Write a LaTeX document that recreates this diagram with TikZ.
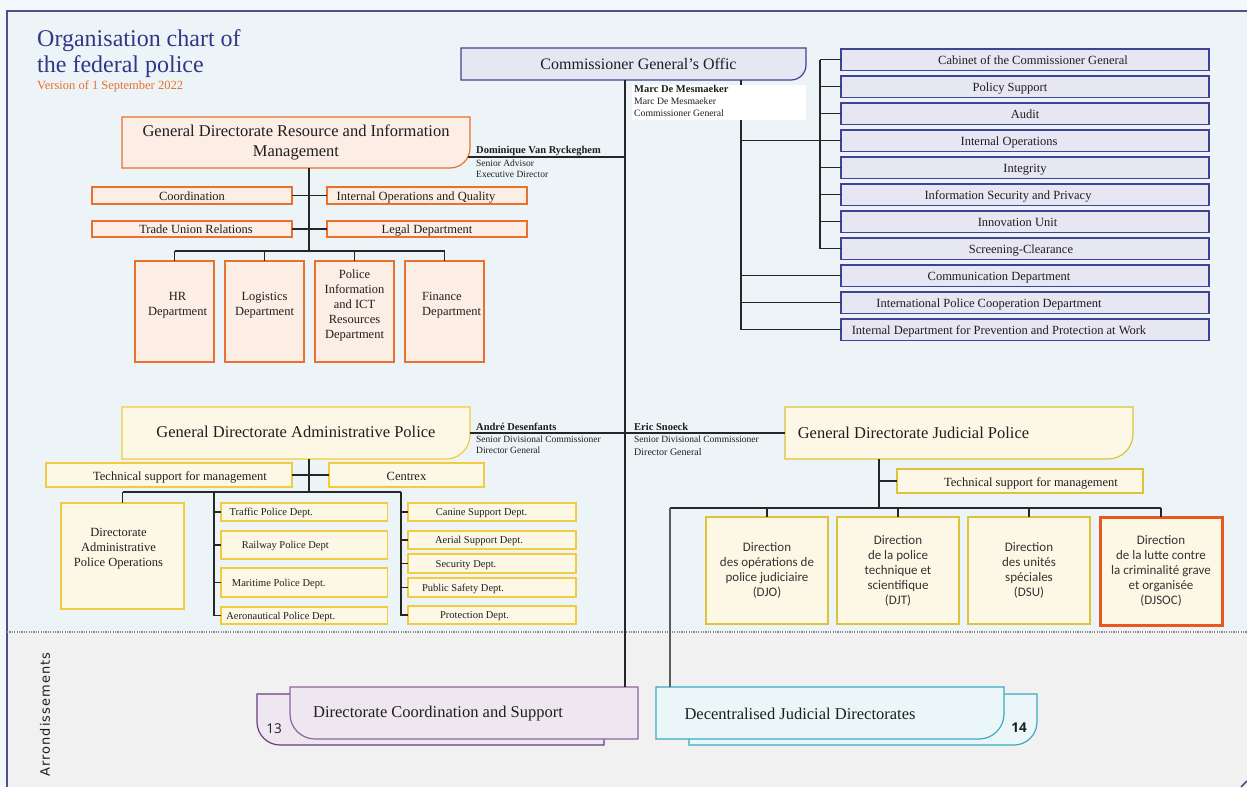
\documentclass[tikz,border=0pt]{standalone}
\usepackage{fontspec}
\setmainfont{Liberation Serif}
\newfontfamily\jfont{Carlito}
\newfontfamily\nfont{Open Sans}
\newfontfamily\arrfont[LetterSpace=8]{DejaVu Sans}
\usetikzlibrary{calc}
\definecolor{pageC}{HTML}{F2F8FB}
\definecolor{upC}{HTML}{EDF4F7}
\definecolor{lowC}{HTML}{F0F1F0}
\definecolor{frameC}{HTML}{4A5089}
\definecolor{titleC}{HTML}{2F3889}
\definecolor{verC}{HTML}{E8702A}
\definecolor{lavF}{HTML}{E7E6F3}
\definecolor{lavD}{HTML}{3D4496}
\definecolor{oraF}{HTML}{FDEEE5}
\definecolor{oraD}{HTML}{E8712E}
\definecolor{yelF}{HTML}{FDF8E6}
\definecolor{yelD}{HTML}{F2CB3E}
\definecolor{jyelD}{HTML}{DDC23A}
\definecolor{redD}{HTML}{E8581C}
\definecolor{purF}{HTML}{EEE7EF}
\definecolor{purD}{HTML}{8B66A0}
\definecolor{purDD}{HTML}{6B3E82}
\definecolor{tealF}{HTML}{EBF6F8}
\definecolor{tealD}{HTML}{3AAAC6}
\definecolor{lineC}{HTML}{262626}
\definecolor{txtC}{HTML}{1E1E1E}
\definecolor{jtxtC}{HTML}{333333}
\definecolor{dotC}{HTML}{8A8A8A}
\newcommand\cbx[3]{\makebox[#1pt][c]{\hspace*{#2pt}#3}}
\newcommand\shapeSE[4]{\path[draw=#2, fill=#3, line width=1.2pt] (#1.north west) -- (#1.north east) -- ([yshift=#4pt]#1.south east) arc[start angle=0, end angle=-90, radius=#4pt] -- (#1.south west) -- cycle;}
\newcommand\shapeSW[4]{\path[draw=#2, fill=#3, line width=1.2pt] (#1.north west) -- (#1.north east) -- (#1.south east) -- ([xshift=#4pt]#1.south west) arc[start angle=270, end angle=180, radius=#4pt] -- cycle;}
\begin{document}
\begin{tikzpicture}[x=1pt,y=-1pt,
  ln/.style={draw=lineC, line width=1.1pt},
  wh/.style 2 args={minimum width=#1pt, minimum height=#2pt},
  box/.style={rectangle, inner sep=0pt, outer sep=0pt, anchor=north west, line width=1.2pt, text=txtC},
  lav/.style={box, draw=lavD, fill=lavF, font=\fontsize{12.5}{14}\selectfont, text height=10pt, text depth=0pt},
  ora/.style={box, draw=oraD, fill=oraF, font=\fontsize{12.5}{15}\selectfont, text height=9.2pt, text depth=0pt},
  orab/.style={box, draw=oraD, fill=oraF},
  yel/.style={box, draw=yelD, fill=yelF, font=\fontsize{12.5}{15}\selectfont, text height=10pt, text depth=0pt},
  yelb/.style={box, draw=yelD, fill=yelF},
  yels/.style={yel, font=\fontsize{10.5}{12}\selectfont, text height=7.8pt, text depth=0pt},
  jb/.style={box, draw=jyelD, fill=yelF, align=center, font=\jfont\fontsize{13}{15}\selectfont, text=jtxtC},
  hd/.style={box, draw=none, fill=none},
  txt/.style={inner sep=0pt, text=txtC, align=center, font=\fontsize{12.5}{15}\selectfont},
  hdt/.style={txt, font=\fontsize{16.5}{19.5}\selectfont},
  pn/.style={inner sep=0pt, anchor=base west, text=txtC, font=\fontsize{9.5}{11}\selectfont},
  pnb/.style={pn, font=\fontsize{10.5}{12}\selectfont\bfseries},
]
\useasboundingbox (0,0) rectangle (1247,787);
% backgrounds
\fill[pageC] (0,0) rectangle (1247,787);
\fill[upC] (7,11) rectangle (1247,632);
\fill[lowC] (7,632) rectangle (1247,787);
\draw[frameC, line width=1.5pt] (7,787) -- (7,11) -- (1247,11);
\draw[frameC, line width=1.5pt] (1241,787) -- (1247,781);
\draw[dotC, line width=1.2pt, dash pattern=on 1.2pt off 1.2pt] (7,632) -- (1247,632);

% title
\node[inner sep=0pt, anchor=base west, text=titleC, font=\fontsize{24}{26}\selectfont] (t1a) at (37,46) {Organisation chart of};
\node[inner sep=0pt, anchor=base west, text=titleC, font=\fontsize{24}{26}\selectfont] (t1b) at (37,72) {the federal police};
\node[inner sep=0pt, anchor=base west, text=verC, font=\fontsize{12.5}{14}\selectfont] (t1c) at (37,89) {Version of 1 September 2022};

% Commissioner General's Office
\node[hd, wh={345}{32}] (cgo) at (461,48) {};
\shapeSE{cgo}{lavD}{lavF}{15}
\node[hdt, font=\fontsize{16}{19}\selectfont] (cgo-t) at ([xshift=5pt]cgo.center) {Commissioner General’s Offic};

% right list
\foreach \i/\s/\t in {1/16/Cabinet of the Commissioner General,
  2/-30/Policy Support, 3/0/Audit, 4/-32/Internal Operations, 5/0/Integrity,
  6/-34/Information Security and Privacy, 7/-15/Innovation Unit, 8/-8/Screening-Clearance,
  9/-52/Communication Department, 10/-72/International Police Cooperation Department,
  11/-52/Internal Department for Prevention and Protection at Work}{
  \pgfmathsetmacro\yy{49+27*(\i-1)}
  \node[lav, wh={368}{21.5}] (r\i) at (841,\yy) {\cbx{368}{\s}{\t}};
}
\coordinate (spR) at (741,330);
\coordinate (brk) at (820,60);
\coordinate (spM) at (625,80);
\draw[ln] (cgo.south -| spR) -- (spR |- r11.west) -- (r11.west);
\draw[ln] (spR |- r9.west) -- (r9.west);
\draw[ln] (spR |- r10.west) -- (r10.west);
\draw[ln] (brk |- r1.west) -- (brk |- r8.west);
\foreach \i in {1,...,8} { \draw[ln] (brk |- r\i.west) -- (r\i.west); }
\draw[ln] (spR |- r4.west) -- (brk |- r4.west);

% white panel with name
\fill[white] (632,85) rectangle (806,120);
\node[pnb] (m1) at (634,92.7) {Marc De Mesmaeker};
\node[pn, font=\fontsize{9.7}{11}\selectfont] (m2) at (634,104.3) {Marc De Mesmaeker};
\node[pn, font=\fontsize{9.7}{11}\selectfont] (m3) at (634,116) {Commissioner General};

% GD Resource and Information Management
\node[hd, wh={348}{51}] (gdr) at (122,117) {};
\shapeSE{gdr}{oraD}{oraF}{20}
\node[hdt] (gdr-t) at (gdr.center) {General Directorate Resource and Information\\Management};
\node[pnb] (d1) at (476,153.3) {Dominique Van Ryckeghem};
\node[pn] (d2) at (476,166.5) {Senior Advisor};
\node[pn] (d3) at (476,177.5) {Executive Director};

\node[ora, wh={200}{17}] (coo) at (92,187) {\cbx{200}{0}{Coordination}};
\node[ora, wh={200}{17}] (ioq) at (327,187) {\cbx{200}{-22}{Internal Operations and Quality}};
\node[ora, wh={200}{16}] (tur) at (92,221) {\cbx{200}{8}{Trade Union Relations}};
\node[ora, wh={200}{16}] (leg) at (327,221) {\cbx{200}{0}{Legal Department}};
\node[orab, wh={79}{101}] (hr) at (135,261) {};
\node[orab, wh={79}{101}] (log) at (225,261) {};
\node[orab, wh={79}{101}] (pit) at (315,261) {};
\node[orab, wh={79}{101}] (fin) at (405,261) {};
\node[txt] (hr-t) at ([xshift=3pt,yshift=6pt]hr.center) {HR\\Department};
\node[txt] (log-t) at ([yshift=6pt]log.center) {Logistics\\Department};
\node[txt] (pit-t) at ([yshift=6pt]pit.center) {Police\\Information\\and ICT\\Resources\\Department};
\node[txt, anchor=west, align=left] (fin-t) at ([xshift=17pt,yshift=6pt]fin.west) {Finance\\Department};

\coordinate (dvr) at ([xshift=-2pt,yshift=11pt]gdr.south east);
\draw[ln] (dvr) -- (dvr -| spM);
\coordinate (t1) at (309,251);
\draw[ln] (gdr.south -| t1) -- (t1);
\draw[ln] (coo.east) -- (ioq.west);
\draw[ln] (tur.east) -- (leg.west);
\draw[ln] (hr.north |- t1) -- (fin.north |- t1);
\foreach \n in {hr,log,pit,fin} { \draw[ln] (\n.north |- t1) -- (\n.north); }

% GD Administrative Police
\node[hd, wh={348}{52}] (gda) at (122,407) {};
\shapeSE{gda}{yelD}{yelF}{24}
\node[hdt] (gda-t) at ([yshift=1pt]gda.center) {General Directorate Administrative Police};
\node[pnb] (a1) at (476,430) {André Desenfants};
\node[pn] (a2) at (476,442) {Senior Divisional Commissioner};
\node[pn] (a3) at (476,453) {Director General};

\node[yel, wh={246}{24}] (tsa) at (46,463) {\cbx{246}{22}{Technical support for management}};
\node[yel, wh={155}{24}] (ctx) at (329,463) {\cbx{155}{0}{Centrex}};
\node[yelb, wh={123}{106}] (dapo) at (61,503) {};
\node[txt] (dapo-t) at ([xshift=-4pt,yshift=7pt]dapo.center) {Directorate\\Administrative\\Police Operations};

\node[yels, wh={166.5}{18}] (traf) at (221,503) {\cbx{166.5}{-66}{Traffic Police Dept.}};
\node[yels, wh={166.5}{28}] (rail) at (221,531) {\cbx{166.5}{-38}{Railway Police Dept}};
\node[yels, wh={166.5}{29}] (mar) at (221,568) {\cbx{166.5}{-51}{Maritime Police Dept.}};
\node[yels, wh={166.5}{17}] (aer) at (221,607) {\cbx{166.5}{-47}{Aeronautical Police Dept.}};
\node[yels, wh={168}{18}] (can) at (408,503) {\cbx{168}{-21}{Canine Support Dept.}};
\node[yels, wh={168}{18}] (aeri) at (408,531) {\cbx{168}{-26}{Aerial Support Dept.}};
\node[yels, wh={168}{19}] (sec) at (408,554) {\cbx{168}{-52}{Security Dept.}};
\node[yels, wh={168}{19}] (pub) at (408,578) {\cbx{168}{-58}{Public Safety Dept.}};
\node[yels, wh={168}{18}] (pro) at (408,606) {\cbx{168}{-35}{Protection Dept.}};

\draw[ln] (gda.east) -- (gda.east -| spM);
\coordinate (t2) at (309,492);
\coordinate (cA) at (214,492);
\coordinate (cB) at (401,492);
\draw[ln] (gda.south -| t2) -- (t2);
\draw[ln] (tsa.east) -- (ctx.west);
\draw[ln] (dapo.north |- t2) -- (cB);
\draw[ln] (dapo.north |- t2) -- (dapo.north);
\draw[ln] (cA) -- (cA |- aer.west) -- (aer.west);
\draw[ln] (cB) -- (cB |- pro.west) -- (pro.west);
\foreach \n in {traf,rail,mar} { \draw[ln] (cA |- \n.west) -- (\n.west); }
\foreach \n in {can,aeri,sec,pub} { \draw[ln] (cB |- \n.west) -- (\n.west); }

% GD Judicial Police
\node[hd, wh={348}{52}] (gjp) at (785,407) {};
\shapeSE{gjp}{jyelD}{yelF}{25}
\node[hdt] (gjp-t) at ([xshift=-45.5pt]gjp.center) {General Directorate Judicial Police};
\node[pnb] (e1) at (634,430) {Eric Snoeck};
\node[pn] (e2) at (634,442) {Senior Divisional Commissioner};
\node[pn, font=\fontsize{10}{11}\selectfont] (e3) at (634,455) {Director General};

\node[yel, draw=jyelD, wh={246}{24}] (tsj) at (897,469) {\cbx{246}{22}{Technical support for management}};
\node[jb, wh={122}{107}] (djo) at (706,517) {Direction\\des opérations de\\police judiciaire\\(DJO)};
\node[jb, wh={122}{107}] (djt) at (837,517) {Direction\\de la police\\technique et\\scientifique\\(DJT)};
\node[jb, wh={122}{107}] (dsu) at (968,517) {Direction\\des unités\\spéciales\\(DSU)};
\node[jb, draw=redD, line width=3pt, wh={122}{108}] (djsoc) at (1100,517) {Direction\\de la lutte contre\\la criminalité grave\\et organisée\\(DJSOC)};

\draw[ln] (spM |- gjp.west) -- (gjp.west);
\coordinate (t3) at (879,508);
\coordinate (jL) at (670,508);
\draw[ln] (gjp.south -| t3) -- (t3);
\draw[ln] (t3 |- tsj.west) -- (tsj.west);
\draw[ln] (jL) -- (djsoc.north |- jL);
\foreach \n in {djo,djt,dsu,djsoc} { \draw[ln] (\n.north |- jL) -- (\n.north); }

% bottom: arrondissements
\node[rotate=90, inner sep=0pt, text=txtC, font=\arrfont\fontsize{13}{13}\selectfont] (arr) at (45,714.5) {Arrondissements};

\node[hd, wh={347}{51}] (dcsb) at (257,694) {};
\shapeSW{dcsb}{purDD}{purF}{23}
\node[hd, wh={348}{52}] (dcs) at (290,687) {};
\shapeSW{dcs}{purD}{purF}{25}
\node[inner sep=0pt, text=txtC, font=\nfont\fontsize{13.5}{14}\selectfont] (n13) at (274,729) {13};
\node[hdt] (dcs-t) at ([xshift=-26pt,yshift=-1pt]dcs.center) {Directorate Coordination and Support};

\node[hd, wh={348}{51}] (djdb) at (689,694) {};
\shapeSE{djdb}{tealD}{tealF}{23}
\node[hd, wh={348}{52}] (djd) at (656,687) {};
\shapeSE{djd}{tealD}{tealF}{25}
\node[inner sep=0pt, text=txtC, font=\nfont\bfseries\fontsize{13.5}{14}\selectfont] (n14) at (1019,728) {14};
\node[hdt] (djd-t) at ([xshift=-30pt,yshift=-1pt]djd.center) {Decentralised Judicial Directorates};

\draw[ln] (cgo.south -| spM) -- (dcs.north -| spM);
\draw[ln, draw=lineC!75] (jL) -- (djd.north -| jL);
\end{tikzpicture}
\end{document}
